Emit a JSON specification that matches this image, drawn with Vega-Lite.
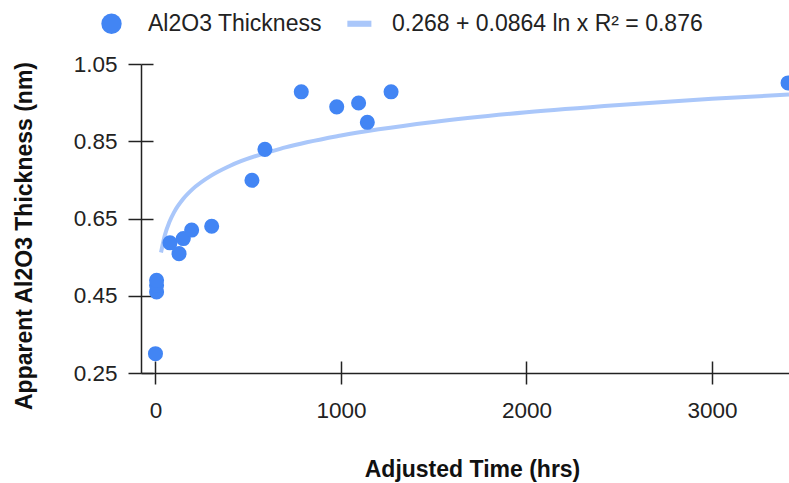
{
  "$schema": "https://vega.github.io/schema/vega-lite/v6.json",
  "width": 648,
  "height": 309,
  "autosize": {"type": "none"},
  "padding": {"left": 141, "top": 64, "right": 0, "bottom": 110},
  "background": "white",
  "config": {
    "view": {"stroke": null},
    "font": "Liberation Sans",
    "axis": {"grid": false}
  },
  "datasets": {
    "points": [
      {"time": 0, "thickness": 0.30, "series": "Al2O3 Thickness"},
      {"time": 6, "thickness": 0.46, "series": "Al2O3 Thickness"},
      {"time": 6, "thickness": 0.477, "series": "Al2O3 Thickness"},
      {"time": 6, "thickness": 0.49, "series": "Al2O3 Thickness"},
      {"time": 78, "thickness": 0.587, "series": "Al2O3 Thickness"},
      {"time": 127, "thickness": 0.559, "series": "Al2O3 Thickness"},
      {"time": 150, "thickness": 0.598, "series": "Al2O3 Thickness"},
      {"time": 195, "thickness": 0.62, "series": "Al2O3 Thickness"},
      {"time": 303, "thickness": 0.63, "series": "Al2O3 Thickness"},
      {"time": 520, "thickness": 0.749, "series": "Al2O3 Thickness"},
      {"time": 590, "thickness": 0.829, "series": "Al2O3 Thickness"},
      {"time": 786, "thickness": 0.978, "series": "Al2O3 Thickness"},
      {"time": 977, "thickness": 0.939, "series": "Al2O3 Thickness"},
      {"time": 1095, "thickness": 0.949, "series": "Al2O3 Thickness"},
      {"time": 1142, "thickness": 0.899, "series": "Al2O3 Thickness"},
      {"time": 1270, "thickness": 0.978, "series": "Al2O3 Thickness"},
      {"time": 3410, "thickness": 1.001, "series": "Al2O3 Thickness"}
    ],
    "trend": [
      {"time": 30, "thickness": 0.562},
      {"time": 50, "thickness": 0.606},
      {"time": 75, "thickness": 0.641},
      {"time": 100, "thickness": 0.666},
      {"time": 150, "thickness": 0.701},
      {"time": 200, "thickness": 0.726},
      {"time": 300, "thickness": 0.761},
      {"time": 400, "thickness": 0.786},
      {"time": 700, "thickness": 0.834},
      {"time": 1000, "thickness": 0.865},
      {"time": 1500, "thickness": 0.900},
      {"time": 2000, "thickness": 0.925},
      {"time": 2500, "thickness": 0.944},
      {"time": 3000, "thickness": 0.960},
      {"time": 3415, "thickness": 0.971}
    ]
  },
  "layer": [
    {
      "data": {"name": "trend"},
      "mark": {"type": "line", "color": "#aac7fa", "strokeWidth": 4, "interpolate": "monotone"},
      "encoding": {
        "x": {
          "field": "time", "type": "quantitative",
          "scale": {"domain": [-78, 3415], "nice": false, "zero": false},
          "axis": {"orient": "bottom", "offset": -12, "values": [0, 1000, 2000, 3000], "labels": false, "domain": false, "title": null, "tickSize": 12, "tickColor": "#222", "tickWidth": 1.5}
        },
        "y": {
          "field": "thickness", "type": "quantitative",
          "scale": {"domain": [0.25, 1.05], "nice": false, "zero": false},
          "axis": {"orient": "left", "offset": -12, "values": [0.25, 0.45, 0.65, 0.85, 1.05], "labels": false, "domain": false, "title": null, "tickSize": 12, "tickColor": "#222", "tickWidth": 1.5}
        }
      }
    },
    {
      "data": {"name": "points"},
      "mark": {"type": "point", "filled": true, "size": 227, "opacity": 1},
      "encoding": {
        "x": {
          "field": "time", "type": "quantitative",
          "scale": {"domain": [-78, 3415], "nice": false, "zero": false},
          "axis": {
            "orient": "bottom", "values": [0, 1000, 2000, 3000], "format": "d",
            "title": "Adjusted Time (hrs)", "titleFontSize": 23, "titleFontWeight": "bold", "titleColor": "#111",
            "titleX": 331, "titleY": 103, "titleBaseline": "alphabetic", "titleAlign": "center", "titleAnchor": null,
            "labelFontSize": 22.5, "labelColor": "#222", "labelPadding": 15,
            "tickSize": 11, "tickColor": "#222", "tickWidth": 1.5,
            "domainColor": "#222", "domainWidth": 1.5
          }
        },
        "y": {
          "field": "thickness", "type": "quantitative",
          "scale": {"domain": [0.25, 1.05], "nice": false, "zero": false},
          "axis": {
            "orient": "left", "values": [0.25, 0.45, 0.65, 0.85, 1.05], "format": ".2f",
            "title": "Apparent Al2O3 Thickness (nm)", "titleFontSize": 23, "titleFontWeight": "bold", "titleColor": "#111",
            "titleX": -109.5, "titleY": 171.5, "titleAngle": -90, "titleBaseline": "alphabetic", "titleAlign": "center",
            "labelFontSize": 22.5, "labelColor": "#222", "labelPadding": 11,
            "tickSize": 13, "tickColor": "#222", "tickWidth": 1.5,
            "domainColor": "#222", "domainWidth": 1.5
          }
        },
        "color": {
          "field": "series", "type": "nominal",
          "scale": {"domain": ["Al2O3 Thickness", "0.268 + 0.0864 ln x R² = 0.876"], "range": ["#4285f4", "#aac7fa"]},
          "legend": {
            "orient": "none", "legendX": -41, "legendY": -52, "direction": "horizontal", "title": null,
            "labelFontSize": 23, "labelColor": "#222", "labelLimit": 0, "symbolSize": 415, "labelOffset": 25, "columnPadding": 22,
            "padding": 0, "symbolOpacity": 1, "symbolStrokeWidth": 0
          }
        },
        "shape": {
          "field": "series", "type": "nominal",
          "scale": {"domain": ["Al2O3 Thickness", "0.268 + 0.0864 ln x R² = 0.876"], "range": ["circle", "M-0.8,-0.3H1.56V0.3H-0.8Z"]},
          "legend": {
            "orient": "none", "legendX": -41, "legendY": -52, "direction": "horizontal", "title": null,
            "labelFontSize": 23, "labelColor": "#222", "labelLimit": 0, "symbolSize": 415, "labelOffset": 25, "columnPadding": 22,
            "padding": 0, "symbolOpacity": 1, "symbolStrokeWidth": 0
          }
        }
      }
    }
  ],
  "resolve": {"axis": {"x": "independent", "y": "independent"}}
}
